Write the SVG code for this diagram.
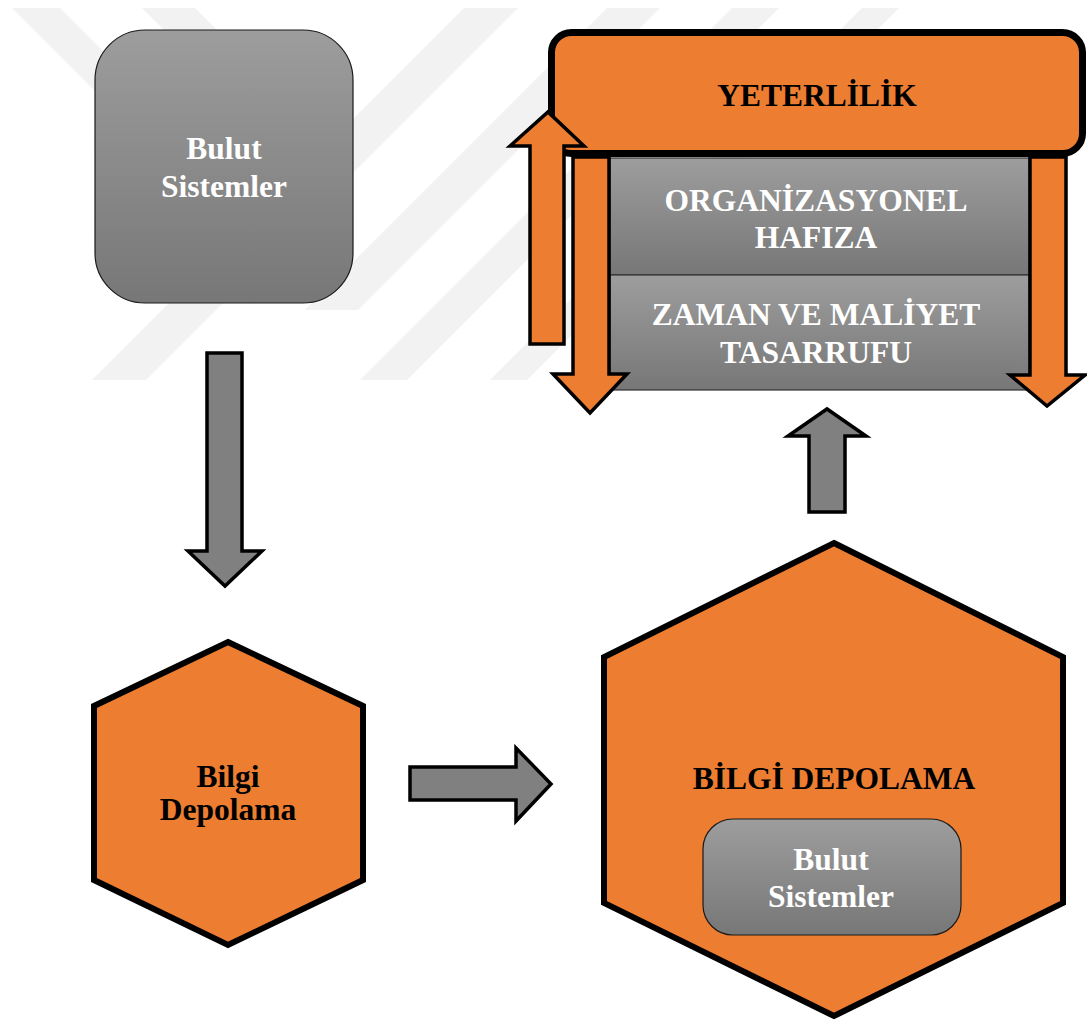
<svg xmlns="http://www.w3.org/2000/svg" width="1087" height="1020" viewBox="0 0 1087 1020">
  <defs>
    <linearGradient id="grayGrad" x1="0" y1="0" x2="0" y2="1">
      <stop offset="0" stop-color="#9d9d9d"/>
      <stop offset="1" stop-color="#777777"/>
    </linearGradient>
    <style>
      .wm { fill: #f2f2f2; stroke: none; }
      .grayBox { fill: url(#grayGrad); stroke: #1a1a1a; stroke-width: 1.2; }
      .panel { fill: url(#grayGrad); stroke: #333333; stroke-width: 1.2; }
      .hex { fill: #ed7d31; stroke: #000000; stroke-width: 6; stroke-linejoin: miter; }
      .grayArrow { fill: #808080; stroke: #000000; stroke-width: 3.5; stroke-linejoin: miter; }
      .orangeArrow { fill: #ed7d31; stroke: #000000; stroke-width: 3.5; stroke-linejoin: miter; }
      .topBox { fill: #ed7d31; stroke: #000000; stroke-width: 7; }
      .t { font-family: "Liberation Serif", "Times New Roman", serif; font-weight: bold; font-size: 31.5px; text-anchor: middle; }
      .w { fill: #ffffff; }
      .b { fill: #000000; }
    </style>
  </defs>
  <rect x="0" y="0" width="1087" height="1020" fill="#ffffff"/>

  <g id="watermark">
    <polygon class="wm" points="12,8 60,8 200,148 200,196"/>
    <polygon class="wm" points="142,8 195,8 300,113 300,166"/>
    <polygon class="wm" points="464,8 518,8 146,380 92,380"/>
    <polygon class="wm" points="607,8 660,8 358,310 305,310"/>
    <polygon class="wm" points="732,8 779,8 407,380 360,380"/>
    <polygon class="wm" points="862,8 899,8 527,380 490,380"/>
  </g>

  <g id="node-bulut-sistemler">
    <rect class="grayBox" x="95" y="30" width="258" height="273" rx="50" ry="50"/>
    <text class="t w" x="224" y="159">Bulut</text>
    <text class="t w" x="224" y="197">Sistemler</text>
  </g>

  <g id="node-bilgi-depolama">
    <polygon class="hex" points="228,642 363,706 363,880 228,945 94,880 94,706"/>
    <text class="t b" x="228" y="787">Bilgi</text>
    <text class="t b" x="228" y="820">Depolama</text>
  </g>

  <g id="node-bilgi-depolama-big">
    <polygon class="hex" points="834,543 1063,657 1063,903 834,1016 604,903 604,657"/>
    <text class="t b" x="834" y="789">BİLGİ DEPOLAMA</text>
    <g id="node-bulut-sistemler-inner">
      <rect class="grayBox" x="703" y="819" width="258" height="116" rx="30" ry="30"/>
      <text class="t w" x="831" y="870">Bulut</text>
      <text class="t w" x="831" y="907">Sistemler</text>
    </g>
  </g>

  <g id="node-organizasyonel-hafiza">
    <rect class="panel" x="610" y="158" width="419" height="117"/>
    <text class="t w" x="816" y="211">ORGANİZASYONEL</text>
    <text class="t w" x="816" y="248">HAFIZA</text>
  </g>

  <g id="node-zaman-maliyet">
    <rect class="panel" x="610" y="275" width="419" height="115"/>
    <text class="t w" x="816" y="325">ZAMAN VE MALİYET</text>
    <text class="t w" x="816" y="363">TASARRUFU</text>
  </g>

  <g id="connectors">
    <polygon class="grayArrow" points="207,353 242,353 242,551 262,551 225,586 188,551 207,551"/>
    <polygon class="grayArrow" points="410,767 516,767 516,748 551,784 516,821 516,800 410,800"/>
    <polygon class="grayArrow" points="809,512 845,512 845,436 866,436 827,409 788,436 809,436"/>
    <polygon class="orangeArrow" points="573,157 609,157 609,374 627,374 590,413 553,374 573,374"/>
    <polygon class="orangeArrow" points="1030,157 1066,157 1066,375 1085,375 1047,406 1010,375 1030,375"/>
  </g>

  <g id="node-yeterlilik">
    <rect class="topBox" x="551.5" y="32.5" width="531" height="121" rx="20" ry="20"/>
    <text class="t b" x="817" y="106">YETERLİLİK</text>
  </g>

  <g id="connector-up-orange">
    <polygon class="orangeArrow" points="530,344 564,344 564,146 584,146 548,112 510,146 530,146"/>
  </g>
</svg>
